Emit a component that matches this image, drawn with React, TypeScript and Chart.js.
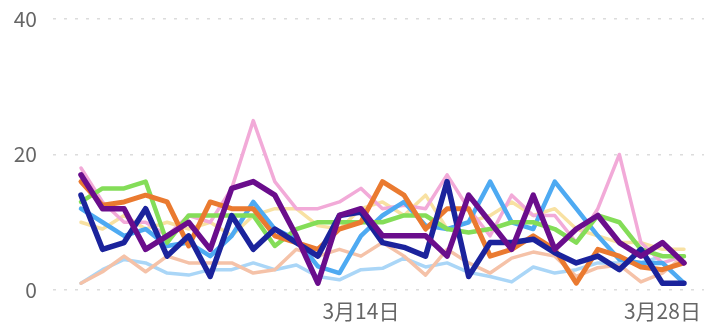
import { useEffect, useRef } from "react";
import { Chart, registerables } from "chart.js";

Chart.register(...registerables);

// Daily dates, 3月1日 … 3月29日
const days = [
  "3月1日", "3月2日", "3月3日", "3月4日", "3月5日", "3月6日", "3月7日", "3月8日",
  "3月9日", "3月10日", "3月11日", "3月12日", "3月13日", "3月14日", "3月15日",
  "3月16日", "3月17日", "3月18日", "3月19日", "3月20日", "3月21日", "3月22日",
  "3月23日", "3月24日", "3月25日", "3月26日", "3月27日", "3月28日", "3月29日",
];

// Dates that get a label on the x axis
const labelledDays = ["3月14日", "3月28日"];

const yTicks = [0, 20, 40];

const navySeries = [14, 6, 7, 12, 5, 8, 2, 11, 6, 9, 7, 5, 11, 11.5, 7, 6.3, 5, 16, 2, 7, 7, 7.5, 5.5, 4, 5, 3, 6, 1, 1];
const purpleSeries = [17, 12, 12, 6, 8, 10, 6, 15, 16, 14, 8, 1, 11, 12, 8, 8, 8, 5, 14, 10, 6, 14, 6, 9, 11, 7, 5, 7, 4];
const orangeSeries = [16, 12.5, 13, 14, 13, 6.5, 13, 12, 12, 8, 7, 6, 9, 10, 16, 14, 9, 12, 12, 5, 6, 8, 6, 1, 6, 5, 3.4, 3, 4];
const greenSeries = [13, 15, 15, 16, 7, 11, 11, 11, 11, 6.5, 9, 10, 10, 10, 10, 11, 11, 9, 8.5, 9, 10, 10, 9, 7, 11, 10, 6, 5, 5];
const skySeries = [12, 10, 8, 9, 6.5, 7, 5, 8, 13, 9, 7.5, 3.5, 2.5, 8, 11, 13, 9.5, 9, 10, 16, 10, 9, 16, 12, 8, 4.5, 4, 4, 1];
const pinkSeries = [18, 13, 10, 10, 8, 11, 10, 15, 25, 16, 12, 12, 13, 15, 12, 12.5, 12, 17, 12, 8, 14, 11, 11, 7, 12, 20, 7, 4, 5];
const paleBlueSeries = [1, 3, 4.5, 4, 2.5, 2.2, 3, 3, 4, 3, 3.7, 2, 1.5, 3, 3.2, 4.7, 3.4, 4, 2.6, 2, 1.2, 3.4, 2.5, 3, 4, 4, 4, 5, 5];
const peachSeries = [1, 2.7, 5, 2.7, 5, 4, 4, 4, 2.5, 3, 6, 5, 6, 5, 7, 5, 2.2, 6, 4, 2.5, 4.7, 5.6, 5, 2, 3.3, 3.7, 1.2, 2.5, 5];
const yellowSeries = [10, 9, 11, 9, 10, 9, 10, 8, 11, 12, 12, 9.5, 9, 12, 13, 11, 14, 9, 10, 11, 13, 11, 12, 9, 8, 7, 7, 6, 6];

type SeriesDef = { name: string; values: number[]; color: string; width: number; order: number };

const seriesList: SeriesDef[] = [
  { name: "A", values: paleBlueSeries, color: "#aad6f7", width: 3.5, order: 9 },
  { name: "B", values: peachSeries, color: "#f5c2a8", width: 3.5, order: 8 },
  { name: "C", values: yellowSeries, color: "#f8e1a2", width: 3.5, order: 7 },
  { name: "D", values: pinkSeries, color: "#f2aad8", width: 3.5, order: 6 },
  { name: "E", values: skySeries, color: "#4eaaf2", width: 4.5, order: 5 },
  { name: "F", values: greenSeries, color: "#84dd58", width: 4.5, order: 4 },
  { name: "G", values: orangeSeries, color: "#ea7a30", width: 5, order: 3 },
  { name: "H", values: navySeries, color: "#1b239c", width: 5.5, order: 2 },
  { name: "I", values: purpleSeries, color: "#6a0d8c", width: 5.5, order: 1 },
];

export default function App() {
  const canvasRef = useRef<HTMLCanvasElement | null>(null);

  useEffect(() => {
    const canvas = canvasRef.current;
    if (!canvas) return;
    const font = { family: "'Noto Sans CJK SC', 'Noto Sans', sans-serif", size: 21 };

    const chart = new Chart(canvas, {
      type: "line",
      data: {
        datasets: seriesList.map((s) => ({
          label: s.name,
          data: s.values.map((v, i) => ({ x: i, y: v })),
          borderColor: s.color,
          backgroundColor: s.color,
          borderWidth: s.width,
          pointRadius: 0,
          tension: 0,
          borderJoinStyle: "round" as const,
          borderCapStyle: "round" as const,
          order: s.order,
        })),
      },
      options: {
        animation: false,
        responsive: false,
        maintainAspectRatio: false,
        layout: { padding: { left: 13, right: 0, top: 19, bottom: 0 } },
        plugins: { legend: { display: false }, tooltip: { enabled: false } },
        scales: {
          x: {
            type: "linear",
            min: -1.3,
            max: 28.93,
            grid: { display: false, drawTicks: false },
            border: { display: false },
            afterBuildTicks: (axis: any) => {
              axis.ticks = labelledDays.map((d) => ({ value: days.indexOf(d) }));
            },
            afterFit: (axis: any) => {
              axis.height = 32;
              axis.paddingLeft = 0;
              axis.paddingRight = 0;
            },
            ticks: {
              autoSkip: false,
              maxRotation: 0,
              padding: 8,
              color: "#666666",
              font,
              callback: (value: any) => days[Number(value)] ?? "",
            },
          },
          y: {
            min: yTicks[0],
            max: yTicks[yTicks.length - 1],
            afterBuildTicks: (axis: any) => {
              axis.ticks = yTicks.map((v) => ({ value: v }));
            },
            afterFit: (axis: any) => {
              axis.width = 40;
              axis.paddingTop = 0;
              axis.paddingBottom = 0;
            },
            grid: {
              color: "#dcdcdc",
              lineWidth: 1.5,
              drawTicks: false,
            },
            border: { display: false, dash: [3, 8] },
            ticks: {
              padding: 16,
              color: "#666666",
              font,
            },
          },
        },
      },
    });

    return () => chart.destroy();
  }, []);

  return (
    <div style={{ position: "fixed", left: 0, top: 0, width: 704, height: 322, background: "#ffffff" }}>
      <canvas ref={canvasRef} width={704} height={322} style={{ display: "block", width: 704, height: 322 }} />
    </div>
  );
}
